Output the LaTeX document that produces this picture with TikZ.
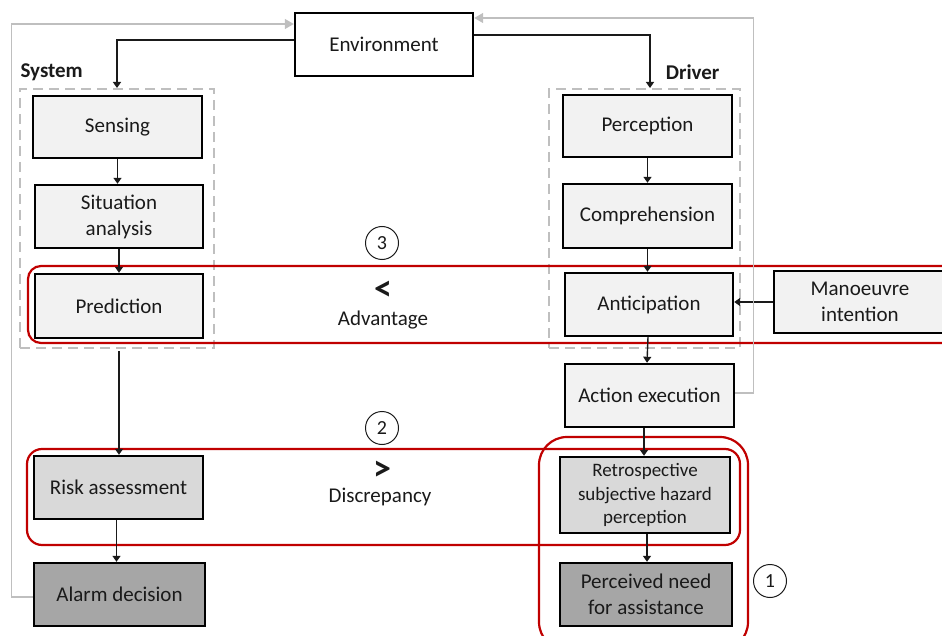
\documentclass[tikz,border=0pt]{standalone}
\usepackage{fontspec}
\setmainfont{Carlito}
\usetikzlibrary{arrows.meta,calc}
\definecolor{boxlight}{HTML}{F2F2F2}
\definecolor{boxmid}{HTML}{D9D9D9}
\definecolor{boxdark}{HTML}{A6A6A6}
\definecolor{framered}{HTML}{C00000}
\definecolor{feedgray}{HTML}{BFBFBF}
\definecolor{ink}{HTML}{1A1A1A}
\tikzset{
  stage/.style={draw=black, line width=2.4pt, fill=boxlight, inner sep=0pt,
    align=center, text=ink, font=\fontsize{21}{26}\selectfont},
  midstage/.style={stage, fill=boxmid},
  darkstage/.style={stage, fill=boxdark},
  groupbox/.style={draw=feedgray, line width=2pt, dash pattern=on 10pt off 6pt, inner sep=0pt},
  flow/.style={draw=ink, line width=1.4pt, -{Triangle[length=6pt,width=8pt]}},
  feedback/.style={draw=feedgray, line width=1.3pt, -{Triangle[length=9pt,width=10pt]}},
  redframe/.style={draw=framered, line width=2.2pt},
  marker/.style={circle, draw=ink, line width=1pt, minimum size=33pt, inner sep=0pt,
    font=\fontsize{20}{24}\selectfont, text=ink},
  heading/.style={font=\fontsize{21}{24}\selectfont\bfseries, text=ink},
  note/.style={inner sep=1pt, font=\fontsize{21}{24}\selectfont, text=ink},
  relation/.style={inner sep=0pt, font=\fontsize{36}{36}\selectfont\bfseries, text=ink},
}
\begin{document}
\begin{tikzpicture}[x=1pt, y=-1pt]
\useasboundingbox (0,0) rectangle (942,636);
\clip (0,0) rectangle (942,636);

% group outlines
\node[groupbox, minimum width=194pt, minimum height=259pt] (sysbox) at (117,218.5) {};
\node[groupbox, minimum width=191pt, minimum height=259pt] (drvbox) at (644.5,218.5) {};
\node[heading, anchor=west] (syslbl) at (17,72) {System};
\node[heading, anchor=east] (drvlbl) at (723,72) {Driver};

% central environment
\node[stage, fill=white, minimum width=178pt, minimum height=63pt] (env) at (384,44.5) {Environment};

% system chain
\node[stage, minimum width=169pt, minimum height=62pt] (sens) at (117.5,127) {Sensing};
\node[stage, minimum width=168pt, minimum height=63pt] (sit) at (119,216.5) {Situation\\analysis};
\node[stage, minimum width=168pt, minimum height=64pt] (pred) at (119,306) {Prediction};
\node[midstage, minimum width=169pt, minimum height=63pt] (risk) at (118.5,487.5) {Risk assessment};
\node[darkstage, minimum width=171pt, minimum height=63pt] (alarm) at (119.5,594.5) {Alarm decision};

% driver chain
\node[stage, minimum width=169pt, minimum height=62pt] (perc) at (647.5,126) {Perception};
\node[stage, minimum width=169pt, minimum height=64pt] (comp) at (647.5,216) {Comprehension};
\node[stage, minimum width=168pt, minimum height=63pt] (anti) at (649,304.5) {Anticipation};
\node[stage, minimum width=172pt, minimum height=62pt] (man) at (860,302) {Manoeuvre\\intention};
\node[stage, minimum width=169pt, minimum height=63pt] (act) at (649.5,395.5) {Action execution};
\node[midstage, minimum width=170pt, minimum height=76pt,
      font=\fontsize{19}{23.5}\selectfont] (retro) at (645,495) {Retrospective\\subjective hazard\\perception};
\node[darkstage, minimum width=172pt, minimum height=63pt] (need) at (646,594.5) {Perceived need\\for assistance};

% comparison frames
\draw[redframe, rounded corners=13pt] (28,266) rectangle (970,343);
\draw[redframe, rounded corners=15pt] (27,449) rectangle (740,545);
\draw[redframe, rounded corners=28pt] (539,437) rectangle (748,650);

% comparison labels
\node[marker] (m3) at (382,243) {3};
\node[relation] (lt) at (383,291) {<};
\node[note] (adv) at (383,320) {Advantage};
\node[marker] (m2) at (382,428) {2};
\node[relation] (gt) at (382,471) {>};
\node[note] (disc) at (380,497) {Discrepancy};
\node[marker] (m1) at (770,581) {1};

% environment to both sides
\draw[flow] ($(env.west)+(0,-4.5)$) -| (sysbox.north);
\draw[flow] ($(env.east)+(0,-9.5)$) -| ($(drvbox.north)+(5.5,0)$);

% system flow
\draw[flow] (sens.south) -- (sens.south |- sit.north);
\draw[flow] (sit.south) -- (sit.south |- pred.north);
\draw[flow] (pred.south |- sysbox.south) ++(0,2) -- (pred.south |- risk.north);
\draw[flow] (risk.south) ++(-2,0) -- ($(alarm.north)+(-3,0)$);

% driver flow
\draw[flow] (perc.south) -- (perc.south |- comp.north);
\draw[flow] (comp.south) -- (comp.south |- anti.north);
\draw[flow] (anti.south) ++(-1,0) -- ($(act.north)+(-2.5,0)$);
\draw[flow] (act.south) ++(-5.5,0) -- ($(retro.north)+(-1,0)$);
\draw[flow] (retro.south) ++(2,0) -- ($(need.north)+(1,0)$);
\draw[flow] (man.west) -- (anti.east |- man.west);

% feedback loops to the environment
\draw[feedback] (alarm.west) ++(0,2.5) -- ++(-21,0) |- ($(env.west)+(0,-20.5)$);
\draw[feedback] (act.east) ++(0,-2.5) -- ++(18.5,0) |- ($(env.east)+(0,-26.5)$);
\end{tikzpicture}
\end{document}
